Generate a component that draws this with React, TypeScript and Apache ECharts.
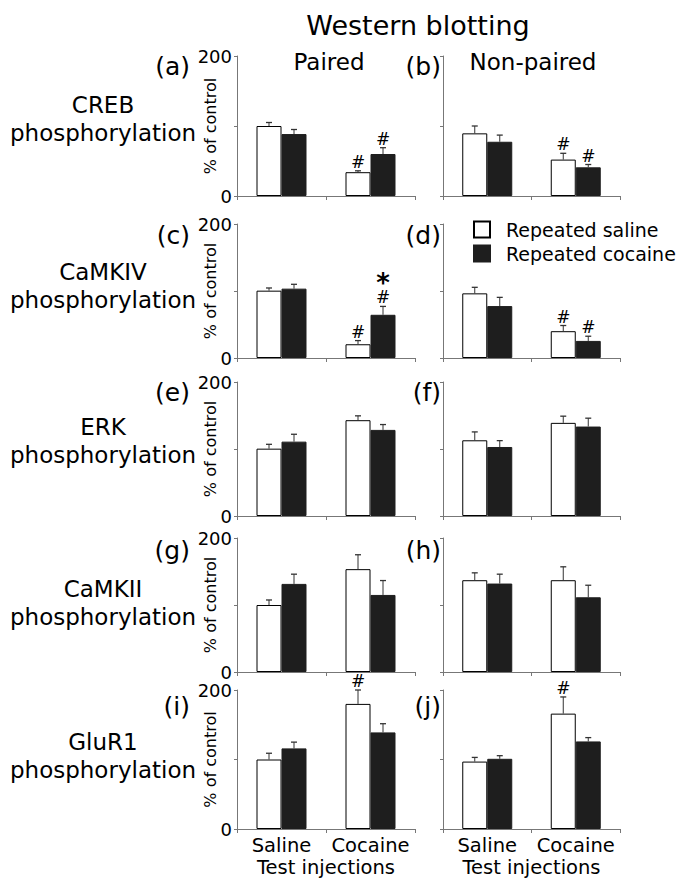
import React, { useEffect, useRef } from "react";
import * as echarts from "echarts";

// ---------- data ----------
const categories = ["Saline", "Cocaine"]; // test injections
const rowNames = ["CREB", "CaMKIV", "ERK", "CaMKII", "GluR1"];
const panelLetters = ["a", "b", "c", "d", "e", "f", "g", "h", "i", "j"];
const columnTitles = ["Paired", "Non-paired"];
const legendNames = ["Repeated saline", "Repeated cocaine"];
const yTicks = [0, 100, 200];

// values: [Saline test, Cocaine test]; Sem = upward error bar length
const crebPairedSaline = [100, 34];
const crebPairedSalineSem = [5, 2];
const crebPairedCocaine = [88.5, 60];
const crebPairedCocaineSem = [6.5, 9];
const crebPairedMarks = [["", "#"], ["", "#"]];

const crebNonpairedSaline = [89.5, 52];
const crebNonpairedSalineSem = [10.5, 9];
const crebNonpairedCocaine = [77.5, 41];
const crebNonpairedCocaineSem = [9.5, 4];
const crebNonpairedMarks = [["", "#"], ["", "#"]];

const camkivPairedSaline = [100.5, 20.5];
const camkivPairedSalineSem = [4, 5.5];
const camkivPairedCocaine = [103.5, 64.5];
const camkivPairedCocaineSem = [6.5, 12.5];
const camkivPairedMarks = [["", "#"], ["", "*#"]];

const camkivNonpairedSaline = [96.5, 40];
const camkivNonpairedSalineSem = [9, 8.5];
const camkivNonpairedCocaine = [77.5, 25.5];
const camkivNonpairedCocaineSem = [13, 7];
const camkivNonpairedMarks = [["", "#"], ["", "#"]];

const erkPairedSaline = [100.5, 143];
const erkPairedSalineSem = [6.5, 6.5];
const erkPairedCocaine = [111, 128.5];
const erkPairedCocaineSem = [11, 8];
const erkPairedMarks = [["", ""], ["", ""]];

const erkNonpairedSaline = [113, 139];
const erkNonpairedSalineSem = [12.5, 10];
const erkNonpairedCocaine = [103, 133.5];
const erkNonpairedCocaineSem = [9.5, 12.5];
const erkNonpairedMarks = [["", ""], ["", ""]];

const camkiiPairedSaline = [100, 153.5];
const camkiiPairedSalineSem = [7.5, 21.5];
const camkiiPairedCocaine = [131.5, 115];
const camkiiPairedCocaineSem = [14.5, 21.5];
const camkiiPairedMarks = [["", ""], ["", ""]];

const camkiiNonpairedSaline = [137, 137];
const camkiiNonpairedSalineSem = [11, 20];
const camkiiNonpairedCocaine = [132, 111.5];
const camkiiNonpairedCocaineSem = [14, 18];
const camkiiNonpairedMarks = [["", ""], ["", ""]];

const glur1PairedSaline = [100, 180];
const glur1PairedSalineSem = [9, 20];
const glur1PairedCocaine = [116, 139];
const glur1PairedCocaineSem = [9, 12.5];
const glur1PairedMarks = [["", "#"], ["", ""]];

const glur1NonpairedSaline = [97, 166];
const glur1NonpairedSalineSem = [6, 24];
const glur1NonpairedCocaine = [101, 126];
const glur1NonpairedCocaineSem = [4.5, 5.5];
const glur1NonpairedMarks = [["", "#"], ["", ""]];

const panels = [
  [crebPairedSaline, crebPairedSalineSem, crebPairedCocaine, crebPairedCocaineSem, crebPairedMarks],
  [crebNonpairedSaline, crebNonpairedSalineSem, crebNonpairedCocaine, crebNonpairedCocaineSem, crebNonpairedMarks],
  [camkivPairedSaline, camkivPairedSalineSem, camkivPairedCocaine, camkivPairedCocaineSem, camkivPairedMarks],
  [camkivNonpairedSaline, camkivNonpairedSalineSem, camkivNonpairedCocaine, camkivNonpairedCocaineSem, camkivNonpairedMarks],
  [erkPairedSaline, erkPairedSalineSem, erkPairedCocaine, erkPairedCocaineSem, erkPairedMarks],
  [erkNonpairedSaline, erkNonpairedSalineSem, erkNonpairedCocaine, erkNonpairedCocaineSem, erkNonpairedMarks],
  [camkiiPairedSaline, camkiiPairedSalineSem, camkiiPairedCocaine, camkiiPairedCocaineSem, camkiiPairedMarks],
  [camkiiNonpairedSaline, camkiiNonpairedSalineSem, camkiiNonpairedCocaine, camkiiNonpairedCocaineSem, camkiiNonpairedMarks],
  [glur1PairedSaline, glur1PairedSalineSem, glur1PairedCocaine, glur1PairedCocaineSem, glur1PairedMarks],
  [glur1NonpairedSaline, glur1NonpairedSalineSem, glur1NonpairedCocaine, glur1NonpairedCocaineSem, glur1NonpairedMarks],
];

// ---------- layout ----------
const FONT = '"DejaVu Sans", sans-serif';
const BAR_W = 25;
const rowTops = [56, 224, 382, 538, 690];
const rowHeights = [140, 134, 134, 134, 139];
const colLefts = [237, 443];
const colWidths = [178, 177];
const panelLabelY = [66, 235, 392, 550, 706];
const rowLabelY = [119, 286, 441, 603, 756];
const AXIS_COLOR = "#777";

function makeRender(marks: string[]) {
  return (params: any, api: any) => {
    const cat = api.value(0);
    const grp = api.value(1);
    const mean = api.value(2);
    const top = api.value(3);
    const pm = api.coord([cat, mean]);
    const pt = api.coord([cat, top]);
    const x = pm[0] + (grp === 0 ? -BAR_W / 2 : BAR_W / 2);
    const children: any[] = [
      { type: "line", shape: { x1: x, y1: pm[1], x2: x, y2: pt[1] }, style: { stroke: "#333", lineWidth: 1 } },
      { type: "line", shape: { x1: x - 3, y1: pt[1], x2: x + 3, y2: pt[1] }, style: { stroke: "#333", lineWidth: 1.3 } },
    ];
    const mark = marks[params.dataIndex] || "";
    if (mark) {
      const parts: string[] = [];
      if (mark.includes("*")) parts.push("{s|*}");
      if (mark.includes("#")) parts.push("{h|#}");
      children.push({
        type: "text",
        x,
        y: pt[1] - 1,
        style: {
          text: parts.join("\n"),
          fill: "#000",
          fontFamily: FONT,
          rich: {
            s: { fontSize: 26, fontWeight: "bold", fontFamily: FONT, lineHeight: 13, fill: "#000" },
            h: { fontSize: 17, fontFamily: FONT, lineHeight: 16, fill: "#000" },
          },
          align: "center", verticalAlign: "bottom", textAlign: "center", textVerticalAlign: "bottom",
        },
      });
    }
    return { type: "group", children };
  };
}

function textEl(text: string, x: number, y: number, size: number, align = "center", lineHeight?: number) {
  return {
    type: "text",
    x,
    y,
    silent: true,
    style: {
      text, font: `${size}px ${FONT}`, fill: "#000",
      align, verticalAlign: "middle", textAlign: align, textVerticalAlign: "middle",
      lineHeight: lineHeight || size * 1.15,
    },
  };
}

function buildOption() {
  const grid: any[] = [];
  const xAxis: any[] = [];
  const yAxis: any[] = [];
  const series: any[] = [];
  const graphic: any[] = [];

  panels.forEach((p, i) => {
    const row = Math.floor(i / 2);
    const col = i % 2;
    const [sal, salSem, coc, cocSem, marks] = p as any;
    const isLeft = col === 0;
    const isBottom = row === rowTops.length - 1;
    grid.push({ left: colLefts[col], top: rowTops[row], width: colWidths[col], height: rowHeights[row], containLabel: false });
    xAxis.push({
      type: "category",
      gridIndex: i,
      data: categories,
      axisLine: { show: true, lineStyle: { color: AXIS_COLOR, width: 1 } },
      axisTick: { show: true, length: 4, lineStyle: { color: AXIS_COLOR } },
      axisLabel: { show: isBottom, interval: 0, fontSize: 19.5, fontFamily: FONT, color: "#000", margin: 8, lineHeight: 17 },
      name: isBottom ? "Test injections" : "",
      nameLocation: "middle",
      nameGap: 30,
      nameMoveOverlap: false,
      nameTextStyle: { fontSize: 19.5, fontFamily: FONT, color: "#000", lineHeight: 17 },
    });
    yAxis.push({
      type: "value",
      gridIndex: i,
      min: yTicks[0],
      max: yTicks[yTicks.length - 1],
      interval: yTicks[1] - yTicks[0],
      axisLine: { show: true, lineStyle: { color: AXIS_COLOR, width: 1 } },
      axisTick: { show: true, length: 3, lineStyle: { color: AXIS_COLOR } },
      splitLine: { show: false },
      axisLabel: {
        show: isLeft, fontSize: 18, fontFamily: FONT, color: "#000", margin: 5, lineHeight: 14,
        formatter: (v: number) => (v === yTicks[1] ? "" : String(v)),
      },
      name: isLeft ? "% of control" : "",
      nameLocation: "middle",
      nameGap: 19,
      nameRotate: 90,
      nameMoveOverlap: false,
      nameTextStyle: { fontSize: 16, fontFamily: FONT, color: "#000", lineHeight: 16 },
    });
    series.push({
      type: "bar", name: legendNames[0], xAxisIndex: i, yAxisIndex: i, data: sal,
      barWidth: BAR_W, barGap: "0%", silent: true,
      itemStyle: { color: "#ffffff", borderColor: "#000", borderWidth: 1 },
    });
    series.push({
      type: "bar", name: legendNames[1], xAxisIndex: i, yAxisIndex: i, data: coc,
      barWidth: BAR_W, barGap: "0%", silent: true,
      itemStyle: { color: "#1e1e1e", borderColor: "#1e1e1e", borderWidth: 1 },
    });
    const errData: number[][] = [];
    const errMarks: string[] = [];
    [[sal, salSem], [coc, cocSem]].forEach(([vals, sems]: any, g: number) => {
      vals.forEach((v: number, c: number) => {
        errData.push([c, g, v, v + sems[c]]);
        errMarks.push(marks[g][c]);
      });
    });
    series.push({
      type: "custom", xAxisIndex: i, yAxisIndex: i, data: errData,
      encode: { x: 0, y: 3 }, z: 5, silent: true, clip: false,
      renderItem: makeRender(errMarks),
    });
    graphic.push(textEl(`(${panelLetters[i]})`, isLeft ? 190 : 441, panelLabelY[row], 25, "right"));
  });

  graphic.push(textEl("Western blotting", 418, 25, 27));
  graphic.push(textEl(columnTitles[0], 329, 62, 23));
  graphic.push(textEl(columnTitles[1], 533, 62, 23));
  rowNames.forEach((n, r) => {
    graphic.push(textEl(`${n}\nphosphorylation`, 103, rowLabelY[r], 23, "center", 28));
  });

  return {
    animation: false,
    backgroundColor: "#fff",
    textStyle: { fontFamily: FONT },
    grid,
    xAxis,
    yAxis,
    legend: {
      orient: "vertical",
      left: 473,
      top: 220,
      padding: 0,
      icon: "rect",
      itemWidth: 16,
      itemHeight: 16,
      itemGap: 5,
      selectedMode: false,
      data: legendNames,
      textStyle: { fontSize: 19, fontFamily: FONT, color: "#000", padding: [0, 0, 0, 11] },
    },
    series,
    graphic,
  };
}

export default function App() {
  const ref = useRef<HTMLDivElement>(null);
  useEffect(() => {
    document.body.style.margin = "0";
    if (!ref.current) return;
    const chart = echarts.init(ref.current, null, { renderer: "svg" });
    chart.setOption(buildOption() as any);
    return () => chart.dispose();
  }, []);
  return <div ref={ref} style={{ width: 698, height: 893 }} />;
}
